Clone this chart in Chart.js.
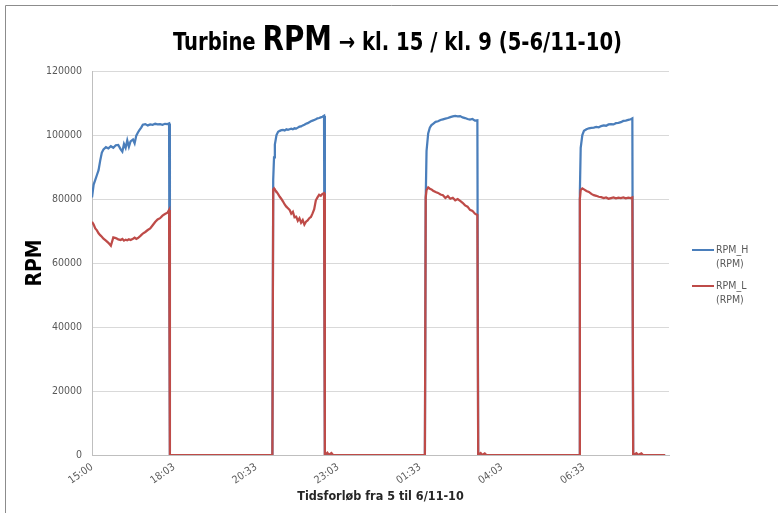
<!DOCTYPE html>
<html>
<head>
<meta charset="utf-8">
<script src="https://cdn.jsdelivr.net/npm/chart.js@4.4.1/dist/chart.umd.min.js"></script>
<style>
  html, body { margin: 0; padding: 0; background: #fff; }
</style>
</head>
<body>
<canvas id="rpmChart" width="778" height="513"></canvas>
<script>
const FONT = '"Liberation Sans Narrow", "DejaVu Sans Condensed", "Liberation Sans", sans-serif';

// x axis: logger sample index, one label every 100 samples
const xTickLabels = ['15:00', '18:03', '20:33', '23:03', '01:33', '04:03', '06:33'];
const samplesPerLabel = 100;
const lastSample = 703.7;

const seriesNames = ['RPM_H (RPM)', 'RPM_L (RPM)'];

const sampleIdx = [
  // run 1
  0, 2, 4, 6, 8, 10, 12, 14, 17, 20, 23, 26, 29, 32, 35, 37, 39, 41, 43, 45,
  47, 50, 52, 54, 56, 58, 60, 62, 65, 68, 71, 74, 77, 80, 83, 86, 89, 92, 94, 95,
  // run 2
  220, 221, 222, 223, 225, 227, 229, 231, 233, 235, 237, 239, 241, 243, 245, 247, 249, 251,
  253, 255, 257, 259, 261, 263, 265, 267, 269, 271, 273, 275, 277, 279, 281, 283, 284,
  287, 289, 292, 294,
  // run 3
  406, 407, 408, 410, 412, 414, 416, 419, 422, 425, 428, 431, 434, 437, 440, 443, 446,
  449, 452, 455, 458, 461, 464, 467, 470, 471,
  474, 476, 479, 481,
  // run 4
  594, 595, 596, 598, 600, 603, 606, 609, 612, 615, 618, 621, 624, 627, 630, 633, 636,
  639, 642, 645, 648, 651, 654, 657, 659, 660,
  664, 666, 670, 672, 699
];

const rpmH = [
  80500, 84500, 86000, 87500, 89000, 92000, 94500, 95500, 96200, 95800, 96500, 96000, 96800, 96900, 95500, 94800, 97200, 96000, 98300, 96300,
  98000, 98600, 97400, 99800, 100800, 101600, 102300, 103200, 103400, 103000, 103300, 103200, 103500, 103300, 103400, 103200, 103500, 103400, 103600, 0,
  0, 86000, 93000, 97000, 100000, 101000, 101300, 101500, 101600, 101400, 101800, 101600, 101800, 102000, 101800, 102100, 102000, 102300,
  102600, 102700, 103000, 103200, 103500, 103700, 104000, 104300, 104500, 104700, 104900, 105200, 105300, 105500, 105700, 106000, 0,
  0, 0, 0, 0,
  0, 80000, 95000, 100500, 102300, 103100, 103500, 104100, 104300, 104700, 104900, 105100, 105300, 105600, 105800, 106000, 105800,
  105900, 105500, 105300, 105000, 104800, 105000, 104500, 104600, 0,
  0, 0, 0, 0,
  0, 82000, 96000, 100000, 101300, 101800, 102100, 102200, 102300, 102500, 102400, 102800, 103000, 102900, 103300, 103400, 103300,
  103700, 103800, 104000, 104400, 104500, 104700, 104900, 105200, 0,
  0, 0, 0, 0, 0
];

const rpmL = [
  72900, 72000, 70800, 70200, 69300, 68700, 68200, 67600, 67000, 66300, 65400, 68000, 67800, 67400, 67200, 67500, 67000, 67300, 67100, 67400,
  67200, 67600, 67900, 67500, 67800, 68200, 68700, 69200, 69700, 70300, 70800, 71800, 72800, 73600, 74000, 74800, 75300, 75700, 76600, 0,
  0, 83000, 83300, 82900, 82300, 81500, 80700, 80000, 79200, 78300, 77600, 77100, 76600, 75400, 76000, 74300, 74500, 73200,
  74000, 72600, 73400, 72000, 72900, 73300, 74000, 74400, 75500, 76800, 79600, 80500, 81300, 81000, 81600, 81800, 0,
  700, 0, 600, 0,
  0, 80500, 82800, 83600, 83200, 83000, 82600, 82200, 81900, 81400, 81200, 80300, 80900, 80100, 80400, 79600, 80000,
  79400, 78800, 78000, 77600, 76600, 76300, 75400, 75000, 0,
  600, 0, 500, 0,
  0, 80000, 82800, 83300, 83000, 82500, 82200, 81600, 81200, 81000, 80700, 80600, 80300, 80500, 80100, 80300, 80500,
  80200, 80400, 80300, 80500, 80200, 80400, 80300, 80500, 0,
  600, 0, 500, 0, 0
];

const toPoints = (vals) => sampleIdx.map((s, i) => ({ x: s, y: vals[i] }));

// title with a bigger "RPM" in the middle
const titleParts = [
  { text: 'Turbine ', size: 24 },
  { text: 'RPM', size: 34 },
  { text: ' \u2192 kl. 15 / kl. 9 (5-6/11-10)', size: 24 }
];

const frameAndTitle = {
  id: 'frameAndTitle',
  beforeDraw(chart) {
    const ctx = chart.ctx;
    ctx.save();
    ctx.strokeStyle = '#8c8c8c';
    ctx.lineWidth = 1;
    ctx.beginPath();
    ctx.moveTo(5.5, chart.height);
    ctx.lineTo(5.5, 5.5);
    ctx.lineTo(chart.width, 5.5);
    ctx.stroke();
    ctx.restore();
  },
  afterDraw(chart) {
    const ctx = chart.ctx;
    ctx.save();
    let total = 0;
    const widths = titleParts.map(p => {
      ctx.font = `bold ${p.size}px ${FONT}`;
      const w = ctx.measureText(p.text).width;
      total += w;
      return w;
    });
    const target = 449;
    ctx.translate(397.5 - target / 2, 50);
    ctx.scale(target / total, 1);
    ctx.fillStyle = '#000';
    ctx.textBaseline = 'alphabetic';
    let x = 0;
    titleParts.forEach((p, i) => {
      ctx.font = `bold ${p.size}px ${FONT}`;
      ctx.fillText(p.text, x, 0);
      x += widths[i];
    });
    ctx.restore();
  }
};

// legend to the right, name and unit on two lines
const sideLegend = {
  id: 'sideLegend',
  afterDraw(chart) {
    const ctx = chart.ctx;
    const area = chart.chartArea;
    ctx.save();
    ctx.font = `10.5px ${FONT}`;
    ctx.textBaseline = 'middle';
    chart.data.datasets.forEach((ds, i) => {
      const y = area.top + 179 + i * 36;
      const x = area.right + 23;
      ctx.strokeStyle = ds.borderColor;
      ctx.lineWidth = 2;
      ctx.beginPath();
      ctx.moveTo(x, y);
      ctx.lineTo(x + 22, y);
      ctx.stroke();
      ctx.fillStyle = '#595959';
      ds.label.split(' ').forEach((line, j) => ctx.fillText(line, x + 24, y + j * 14));
    });
    ctx.restore();
  }
};

new Chart(document.getElementById('rpmChart'), {
  type: 'line',
  data: {
    datasets: [
      {
        label: seriesNames[0],
        data: toPoints(rpmH),
        borderColor: '#4a7ebb',
        borderWidth: 2.25,
        pointRadius: 0,
        tension: 0,
        order: 1
      },
      {
        label: seriesNames[1],
        data: toPoints(rpmL),
        borderColor: '#be4b48',
        borderWidth: 2.25,
        pointRadius: 0,
        tension: 0,
        order: 0
      }
    ]
  },
  options: {
    responsive: false,
    animation: false,
    devicePixelRatio: 1,
    layout: { padding: { top: 71, right: 109, bottom: 0, left: 0 } },
    plugins: {
      legend: { display: false },
      tooltip: { enabled: false },
      title: { display: false }
    },
    scales: {
      x: {
        type: 'linear',
        min: 0,
        max: lastSample,
        afterBuildTicks: (scale) => {
          scale.ticks = xTickLabels.map((_, i) => ({ value: i * samplesPerLabel }));
        },
        afterFit: (scale) => { scale.height = 58; },
        ticks: {
          autoSkip: false,
          minRotation: 35,
          maxRotation: 35,
          padding: 6,
          color: '#595959',
          font: { family: FONT, size: 10.5 },
          callback: (value) => xTickLabels[Math.round(value / samplesPerLabel)]
        },
        grid: { display: false, drawTicks: false },
        border: { display: true, color: '#bfbfbf', width: 1 },
        title: {
          display: true,
          text: 'Tidsforløb fra 5 til 6/11-10',
          color: '#262626',
          font: { family: FONT, size: 12.5, weight: 'bold' },
          padding: { top: 0, bottom: 9 }
        }
      },
      y: {
        min: 0,
        max: 120000,
        afterFit: (scale) => { scale.width = 92; },
        ticks: {
          stepSize: 20000,
          padding: 10,
          color: '#595959',
          font: { family: FONT, size: 10.5 },
          callback: (value) => String(value)
        },
        grid: { color: '#d9d9d9', drawTicks: false },
        border: { display: true, color: '#bfbfbf', width: 1 },
        title: {
          display: true,
          text: 'RPM',
          color: '#000',
          font: { family: FONT, size: 21, weight: 'bold' },
          padding: { top: 23, bottom: 0 }
        }
      }
    }
  },
  plugins: [frameAndTitle, sideLegend]
});
</script>
</body>
</html>
